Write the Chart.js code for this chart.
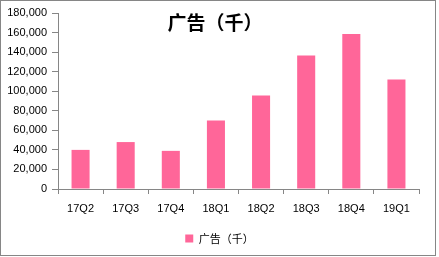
<!DOCTYPE html>
<html lang="zh">
<head>
<meta charset="UTF-8">
<title>广告（千）</title>
<script src="https://cdn.jsdelivr.net/npm/chart.js"></script>
<style>
    body {
        margin: 0;
        background: #ffffff;
    }
    #wrap {
        position: absolute;
        left: 0;
        top: 0;
        width: 439px;
        height: 257px;
    }
</style>
</head>
<body>
<div id="wrap"><canvas id="adChart" width="439" height="257"></canvas></div>
<script>
    const quarters = ['17Q2', '17Q3', '17Q4', '18Q1', '18Q2', '18Q3', '18Q4', '19Q1'];
    const adSpend = [40000, 48000, 39000, 70000, 95500, 136500, 158500, 112000];
    const seriesName = '广告（千）';
    const chartTitle = '广告（千）';

    const axisGray = '#868686';
    const cjkFont = '"Noto Sans CJK SC", "Liberation Sans", sans-serif';

    // frame + overlaid title (Excel puts the title on top of the plot)
    const frameAndTitle = {
        id: 'frameAndTitle',
        afterLayout(chart) {
            // centre the legend on the whole frame, not on the padded area
            if (chart.legend) {
                chart.legend.left = 0;
                chart.legend.right = 439;
                chart.legend.width = 439;
            }
        },
        afterDraw(chart) {
            const c = chart.ctx;
            c.save();
            c.strokeStyle = axisGray;
            c.lineWidth = 1;
            c.strokeRect(0.5, 0.5, 435, 255);
            c.fillStyle = '#000000';
            c.font = 'bold 19px ' + cjkFont;
            c.textAlign = 'center';
            c.textBaseline = 'middle';
            c.fillText(chartTitle, 215, 23);
            c.restore();
        }
    };

    new Chart(document.getElementById('adChart'), {
        type: 'bar',
        data: {
            labels: quarters,
            datasets: [{
                label: seriesName,
                data: adSpend,
                backgroundColor: '#ff6699',
                borderWidth: 0,
                categoryPercentage: 1.0,
                barPercentage: 0.4
            }]
        },
        options: {
            responsive: false,
            devicePixelRatio: 1,
            animation: false,
            layout: {
                padding: { left: 0, top: 13, right: 20, bottom: 3 }
            },
            scales: {
                x: {
                    grid: {
                        drawOnChartArea: false,
                        drawTicks: true,
                        tickLength: 5,
                        color: axisGray
                    },
                    border: { color: axisGray },
                    ticks: {
                        color: '#000000',
                        padding: 8,
                        maxRotation: 0,
                        font: { family: '"Liberation Sans", Arial, sans-serif', size: 11 }
                    },
                    afterFit(scale) { scale.height = 34; }
                },
                y: {
                    min: 0,
                    max: 180000,
                    grid: {
                        drawOnChartArea: false,
                        drawTicks: true,
                        tickLength: 6,
                        color: axisGray
                    },
                    border: { color: axisGray },
                    ticks: {
                        stepSize: 20000,
                        color: '#000000',
                        padding: 5,
                        font: { family: '"Liberation Sans", Arial, sans-serif', size: 11 },
                        callback: v => v.toLocaleString('en-US')
                    },
                    afterFit(scale) { scale.width = 58; }
                }
            },
            plugins: {
                legend: {
                    position: 'bottom',
                    labels: {
                        boxWidth: 8,
                        boxHeight: 8,
                        padding: 10,
                        color: '#000000',
                        font: { family: cjkFont, size: 11 }
                    }
                },
                title: { display: false },
                tooltip: { enabled: false }
            }
        },
        plugins: [frameAndTitle]
    });
</script>
</body>
</html>
